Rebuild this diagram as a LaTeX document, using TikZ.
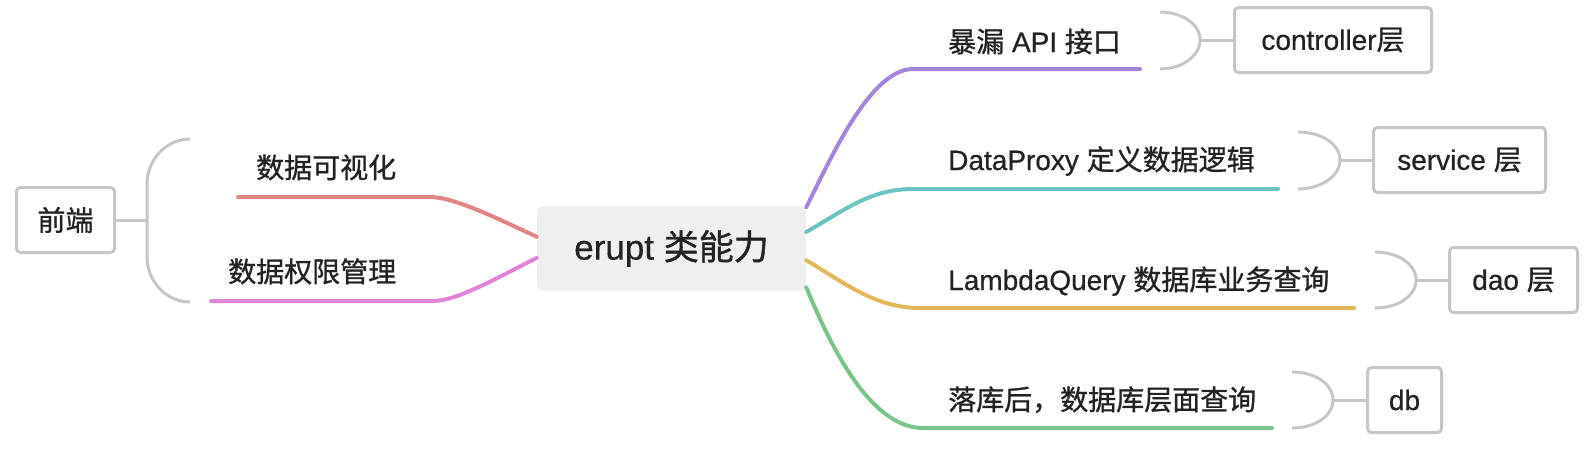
\documentclass[tikz,border=0pt]{standalone}
\usepackage{fontspec}
\setmainfont[FakeBold=0.6]{Liberation Sans}
\newfontfamily\cjk[FakeBold=1]{Noto Sans CJK SC}
\usetikzlibrary{positioning}

\definecolor{txt}{RGB}{34,34,34}
\definecolor{linegray}{RGB}{198,198,198}
\definecolor{corefill}{RGB}{238,240,240}
\definecolor{cpurple}{RGB}{163,133,222}
\definecolor{cteal}{RGB}{108,196,194}
\definecolor{cyellow}{RGB}{226,184,92}
\definecolor{cgreen}{RGB}{122,196,138}
\definecolor{cred}{RGB}{224,132,132}
\definecolor{cpink}{RGB}{224,132,216}

\begin{document}
\begin{tikzpicture}[
      x=1pt, y=-1pt,
      every node/.style={text=txt, font=\fontsize{28}{34}\selectfont},
      core/.style={fill=corefill, rounded corners=6pt, minimum width=269pt,
        minimum height=85pt, font=\fontsize{35}{42}\selectfont},
      leaf/.style={draw=linegray, line width=3pt, rounded corners=4pt,
        fill=white, minimum height=65pt},
      tag/.style={anchor=base west, inner sep=0pt},
      branch/.style={line width=4pt, line cap=round},
      grayline/.style={draw=linegray, line width=3pt}
    ]
    \useasboundingbox (0,0) rectangle (1594,472);

    % centre
    \node[core] (core) at (671.5,248.5) {erupt {\cjk 类能力}};

    % left side
    \node[leaf, minimum width=98pt] (fe) at (65.5,220) {\cjk 前端};
    \node[tag] (vis) at (256,178) {\cjk 数据可视化};
    \node[tag] (perm) at (228,282) {\cjk 数据权限管理};
    \coordinate (vis-end) at (238,197);
    \coordinate (perm-end) at (211,301);
    \coordinate (fe-tip) at (147,220);

    % right side
    \node[tag] (api) at (948,52) {{\cjk 暴漏} API {\cjk 接口}};
    \node[tag] (proxy) at (948,170) {DataProxy {\cjk 定义数据逻辑}};
    \node[tag] (lambda) at (948,290) {LambdaQuery {\cjk 数据库业务查询}};
    \node[tag] (dbq) at (948,410) {\cjk 落库后，数据库层面查询};
    \coordinate (api-end) at (1140,69);
    \coordinate (proxy-end) at (1278,189);
    \coordinate (lambda-end) at (1354,308);
    \coordinate (dbq-end) at (1272,428);

    \node[leaf, minimum width=197pt] (ctrl) at (1333,40) {controller{\cjk 层}};
    \node[leaf, minimum width=172pt] (svc) at (1459.5,160) {service {\cjk 层}};
    \node[leaf, minimum width=128pt] (dao) at (1513.5,280) {dao {\cjk 层}};
    \node[leaf, minimum width=74pt] (db) at (1404.5,400) {db};
    \coordinate (ctrl-tip) at (1200,40);
    \coordinate (svc-tip) at (1340,160);
    \coordinate (dao-tip) at (1416,280);
    \coordinate (db-tip) at (1333,400);

    % branches
    \draw[branch, cpurple] (core.17) .. controls (830,160) and (870,69) .. (913,69) -- (api-end);
    \draw[branch, cteal] (core.7) .. controls (845,210) and (870,189) .. (913,189) -- (proxy-end);
    \draw[branch, cyellow] (core.-5) .. controls (845,283) and (875,308) .. (920,308) -- (lambda-end);
    \draw[branch, cgreen] (core.-16) .. controls (830,345) and (870,428) .. (923,428) -- (dbq-end);
    \draw[branch, cred] (core.175) .. controls (500,220) and (455,197) .. (430,197) -- (vis-end);
    \draw[branch, cpink] (core.184) .. controls (500,276) and (458,301) .. (433,301) -- (perm-end);

    % brackets
    \draw[grayline] (190,139) .. controls (166,139) and (147,160) .. (147,184) -- (fe-tip)
      -- (147,257) .. controls (147,281) and (166,302) .. (190,302);
    \draw[grayline] (fe-tip) -- (fe);
    \draw[grayline] (1160,12) .. controls (1182,12) and (1200,24) .. (ctrl-tip)
      .. controls (1200,56) and (1182,69) .. (1160,69);
    \draw[grayline] (ctrl-tip) -- (ctrl);
    \draw[grayline] (1298,132) .. controls (1321,132) and (1340,144) .. (svc-tip)
      .. controls (1340,176) and (1321,189) .. (1298,189);
    \draw[grayline] (svc-tip) -- (svc);
    \draw[grayline] (1375,252) .. controls (1398,252) and (1416,264) .. (dao-tip)
      .. controls (1416,296) and (1398,308) .. (1375,308);
    \draw[grayline] (dao-tip) -- (dao);
    \draw[grayline] (1292,372) .. controls (1315,372) and (1333,384) .. (db-tip)
      .. controls (1333,416) and (1315,428) .. (1292,428);
    \draw[grayline] (db-tip) -- (db);
\end{tikzpicture}
\end{document}
